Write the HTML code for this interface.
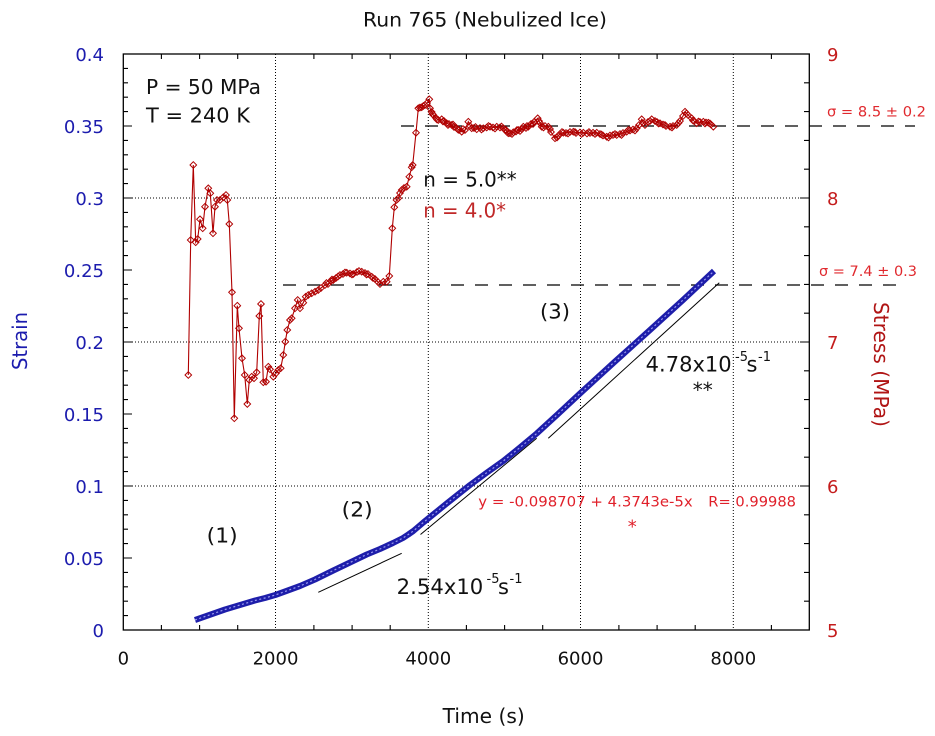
<!DOCTYPE html>
<html><head><meta charset="utf-8"><style>
html,body{margin:0;padding:0;background:#fff;}
svg{display:block;}
text{font-family:"DejaVu Sans","Liberation Sans",sans-serif;}
</style></head><body>
<svg width="935" height="736" viewBox="0 0 935 736" xmlns="http://www.w3.org/2000/svg">
<defs>
<marker id="dm" viewBox="-5 -5 10 10" markerWidth="10" markerHeight="10" markerUnits="userSpaceOnUse" refX="0" refY="0" overflow="visible">
<path d="M0,-3.3L3.3,0L0,3.3L-3.3,0Z" fill="none" stroke="#b00000" stroke-width="1"/>
</marker>
</defs>
<rect width="935" height="736" fill="#fff"/>

<!-- title -->
<text x="363" y="26.5" font-size="19.5" fill="#111" textLength="244" lengthAdjust="spacingAndGlyphs">Run 765 (Nebulized Ice)</text>

<!-- grid -->
<g stroke="#000" stroke-width="1" stroke-dasharray="1 2" fill="none">
<path d="M275.5,54V630M428.3,54V630M580.5,54V630M733.3,54V630"/>
<path d="M123,198H809M123,342H809M123,486H809"/>
</g>

<!-- frame -->
<rect x="123.3" y="54" width="686" height="576" fill="none" stroke="#000" stroke-width="1.3"/>

<!-- ticks -->
<g stroke="#000" stroke-width="1.1" fill="none">
<path d="M161.4,630v-5M199.6,630v-5M237.7,630v-5M313.9,630v-5M352.1,630v-5M390.2,630v-5M466.4,630v-5M504.6,630v-5M542.7,630v-5M618.9,630v-5M657.1,630v-5M695.2,630v-5M771.4,630v-5"/>
<path d="M161.4,54v5M199.6,54v5M237.7,54v5M313.9,54v5M352.1,54v5M390.2,54v5M466.4,54v5M504.6,54v5M542.7,54v5M618.9,54v5M657.1,54v5M695.2,54v5M771.4,54v5"/>
<path d="M123,615.6h5M123,601.2h5M123,586.8h5M123,572.4h5M123,558h9M123,543.6h5M123,529.2h5M123,514.8h5M123,500.4h5M123,486h9M123,471.6h5M123,457.2h5M123,442.8h5M123,428.4h5M123,414h9M123,399.6h5M123,385.2h5M123,370.8h5M123,356.4h5M123,342h9M123,327.6h5M123,313.2h5M123,298.8h5M123,284.4h5M123,270h9M123,255.6h5M123,241.2h5M123,226.8h5M123,212.4h5M123,198h9M123,183.6h5M123,169.2h5M123,154.8h5M123,140.4h5M123,126h9M123,111.6h5M123,97.2h5M123,82.8h5M123,68.4h5"/>
<path d="M809,601.2h-5M809,572.4h-5M809,543.6h-5M809,514.8h-5M809,486h-9M809,457.2h-5M809,428.4h-5M809,399.6h-5M809,370.8h-5M809,342h-9M809,313.2h-5M809,284.4h-5M809,255.6h-5M809,226.8h-5M809,198h-9M809,169.2h-5M809,140.4h-5M809,111.6h-5M809,82.8h-5"/>
</g>

<!-- left labels -->
<g font-size="18" fill="#1c1cae" text-anchor="end">
<text x="104" y="61">0.4</text>
<text x="104" y="133">0.35</text>
<text x="104" y="205">0.3</text>
<text x="104" y="277">0.25</text>
<text x="104" y="349">0.2</text>
<text x="104" y="421">0.15</text>
<text x="104" y="493">0.1</text>
<text x="104" y="565">0.05</text>
<text x="104" y="637">0</text>
</g>
<!-- right labels -->
<g font-size="18" fill="#c41c1c">
<text x="827" y="61">9</text>
<text x="827" y="205">8</text>
<text x="827" y="349">7</text>
<text x="827" y="493">6</text>
<text x="827" y="637">5</text>
</g>
<!-- bottom labels -->
<g font-size="18" fill="#111" text-anchor="middle">
<text x="123.3" y="664.5">0</text>
<text x="275.5" y="664.5">2000</text>
<text x="428.3" y="664.5">4000</text>
<text x="580.5" y="664.5">6000</text>
<text x="733.3" y="664.5">8000</text>
</g>

<!-- axis titles -->
<text x="442.7" y="723" font-size="20" fill="#111" textLength="82" lengthAdjust="spacingAndGlyphs">Time (s)</text>
<text transform="translate(27,370) rotate(-90)" font-size="20" fill="#1c1cae" textLength="58" lengthAdjust="spacingAndGlyphs">Strain</text>
<text transform="translate(874,302) rotate(90)" font-size="20" fill="#b01414" textLength="125" lengthAdjust="spacingAndGlyphs">Stress (MPa)</text>

<!-- dashed sigma lines -->
<g stroke="#000" stroke-width="1.2" stroke-dasharray="13 11" fill="none">
<path d="M401,126H915"/>
<path d="M283,285H897"/>
</g>
<text x="827" y="116.7" font-size="14" fill="#e0282d" textLength="99" lengthAdjust="spacingAndGlyphs">σ = 8.5 ± 0.2</text>
<text x="819" y="276" font-size="14" fill="#e0282d" textLength="98" lengthAdjust="spacingAndGlyphs">σ = 7.4 ± 0.3</text>

<!-- fit lines -->
<g stroke="#000" stroke-width="1" fill="none">
<path d="M318.3,592.3L401.7,553.3"/>
<path d="M420.5,534.5L536.7,438.3"/>
<path d="M548.3,438.3L719.3,282.7"/>
</g>

<!-- strain curve (blue band) -->
<polyline fill="none" stroke="#1e1eaa" stroke-width="6" stroke-linejoin="round" points="195,620 205,616.5 215,613 225,609.5 235,606.5 245,603.5 255,600.5 265,598 275.3,595 285,591.5 300,586 315,579.5 333.3,570.5 350,562.5 366.7,554.5 380,549 393,543 403,538 408.3,534.5 413.3,531 423.3,522.5 435,513 446.7,503.5 458,494.5 470,485 487,472.5 503.3,461 520,447.5 536.7,433.5 558,414 580,393.5 615,361.5 650,330 683,300 714,271"/>
<polyline fill="none" stroke="#9a9af0" stroke-width="1.2" stroke-dasharray="2 2.5" points="195,620 205,616.5 215,613 225,609.5 235,606.5 245,603.5 255,600.5 265,598 275.3,595 285,591.5 300,586 315,579.5 333.3,570.5 350,562.5 366.7,554.5 380,549 393,543 403,538 408.3,534.5 413.3,531 423.3,522.5 435,513 446.7,503.5 458,494.5 470,485 487,472.5 503.3,461 520,447.5 536.7,433.5 558,414 580,393.5 615,361.5 650,330 683,300 714,271"/>

<!-- stress curve -->
<polyline fill="none" stroke="#b00000" stroke-width="1.1" marker-start="url(#dm)" marker-mid="url(#dm)" marker-end="url(#dm)" points="188.3,375 190.7,240 193.3,165 195.7,242.3 197.7,239 200,219.3 202.7,228.3 205,206.7 208.3,188.3 210.3,193.3 213,233.3 215,206.7 217,200 220,200 223.3,197.3 226,195 227.3,200 229.3,224 232,292.3 234.3,418.3 237.3,305.7 239,328.3 242,358.3 244.7,375 247.3,404 249.3,380 251.7,376.7 254,378.3 256.7,372.3 259.3,316 261,304 263.3,382.3 266,381.7 268.3,366.7 270,369.3 273.3,376.7 276,373.3 278.3,370 280.7,368.3 283.3,355 285.3,341.7 287.3,330 290,320 291.7,318.3 295,308.3 297.7,300 300,308.3 303.3,302.7 305.7,296.7 308.3,295 311.7,293.3 315,291.7 318.3,290 321,288 325,285 328,284 331,281 333.3,280 336,278 340,275 343,274 346.7,272.7 350,273.5 353.3,274 357,272 361.7,271.7 365,273 368,274 371.7,276.7 375,279 378,282 380,284 383.3,281.7 386.7,281.7 389.3,276 392.3,228.3 394.3,207.3 396.5,200 398.3,198.3 400,193 401.7,190 404,188 406.7,186.7 409.3,176.7 411.7,167.3 412.7,165 416,132.7 418.3,108.3 420,107.5 421.7,107.3 423.3,106 425,105 427,103 429.3,99.3 430,108.3 431.7,112 433.3,115 436,118 438.3,120 441.7,119.3 444,121 446.7,123.3 449,124 451.7,125 454,127 456.7,128.3 459,130 461.7,131.7 465,130 468.3,121.7 471.7,128.3 474,128 476.7,129.3 480,128 483.3,128.3 486.7,127.5 490,126.7 493,127.5 496.7,126.7 500,127.5 503.3,128.3 506,130 508.3,133.3 510,133.3 513.3,132.3 516,131.5 518.3,130 520,131 523.3,126.7 526,128 528.3,126.7 531,124 534,122 537.7,118.3 540,123 541.7,126.7 545,126 548.3,126.7 551,132 555,138.3 558,136 560,134 563.3,132.7 566,133 570,132 573.3,131.7 576,133 580,132.5 583.3,132.7 587,133.5 590,133 593,132.7 596.7,132.7 600,134 603,135.5 606.7,136.7 610,135.5 613,135 616.7,135 620,134 623,133 626.7,131.7 630,130.5 633,129.5 636.7,128.3 639,125 641.7,119.3 645,125 648,122 651.7,119.3 655,121 657,122 660,123.3 663,124.5 666,126 670,126.7 673,126 676.7,125 680,121 683,116 685,111.7 688,115 691.7,118.3 694,121 696.7,123.3 700,122 703.3,121.7 706,122.5 708.3,122.7 711,124.5 713.3,126.7"/>
<!-- extra jittered markers for density on plateau -->
<polyline fill="none" stroke="none" marker-mid="url(#dm)" marker-end="url(#dm)" points="320,286.5 326.5,283 332,279.5 338,276.5 345,272.5 352,274.5 359,271 366.5,274.5 373,278 432.5,114 437,119.5 443,121.5 448,125 453,124.5 458,129.5 463,129 470,126 475.5,127 481.5,129.5 488.5,126 495,128.5 501.5,126.5 507,132 512,134 517,130 522,129 527,126 533,124 539,121 543.5,127.5 550,129 557,137.5 562,132 568,133.5 575,132 581.5,134 589,132 595,134 601.5,134.5 608.5,137.5 615,134 621.5,135 628.5,130 635,130.5 643,123 650,121 658.5,123.5 665,125 672,127.5 678.5,123 686.5,113.5 693,120.5 698.5,121.5 705,123.5 710,123.5"/>

<!-- annotations -->
<text x="146" y="94" font-size="20" fill="#111" textLength="115" lengthAdjust="spacingAndGlyphs">P = 50 MPa</text>
<text x="146" y="122.3" font-size="20" fill="#111" textLength="104" lengthAdjust="spacingAndGlyphs">T = 240 K</text>
<text x="423.3" y="186.7" font-size="20" fill="#111" textLength="93.4" lengthAdjust="spacingAndGlyphs">n = 5.0**</text>
<text x="423.3" y="217.3" font-size="20" fill="#c02828" textLength="82.7" lengthAdjust="spacingAndGlyphs">n = 4.0*</text>
<text x="540" y="318.5" font-size="20" fill="#111" textLength="30" lengthAdjust="spacingAndGlyphs">(3)</text>
<text x="341.7" y="516.5" font-size="20" fill="#111" textLength="31" lengthAdjust="spacingAndGlyphs">(2)</text>
<text x="206.7" y="542.5" font-size="20" fill="#111" textLength="31" lengthAdjust="spacingAndGlyphs">(1)</text>

<text x="396.7" y="594" font-size="21" fill="#111" textLength="86.6" lengthAdjust="spacingAndGlyphs">2.54x10</text>
<text x="486.5" y="583" font-size="13" fill="#111">-5</text>
<text x="498" y="594" font-size="21" fill="#111">s</text>
<text x="509.5" y="583" font-size="13" fill="#111">-1</text>

<text x="645.7" y="371.7" font-size="21" fill="#111" textLength="86" lengthAdjust="spacingAndGlyphs">4.78x10</text>
<text x="735" y="361" font-size="13" fill="#111">-5</text>
<text x="746.5" y="371.7" font-size="21" fill="#111">s</text>
<text x="758" y="361" font-size="13" fill="#111">-1</text>
<text x="702.7" y="397" font-size="20" fill="#111" text-anchor="middle">**</text>

<text x="478.3" y="506.7" font-size="14" fill="#e0202a" textLength="214.4" lengthAdjust="spacingAndGlyphs">y = -0.098707 + 4.3743e-5x</text>
<text x="708.3" y="506.7" font-size="14" fill="#e0202a" textLength="87.7" lengthAdjust="spacingAndGlyphs">R= 0.99988</text>
<text x="632.3" y="532.5" font-size="18" fill="#e0202a" text-anchor="middle">*</text>
</svg>
</body></html>
